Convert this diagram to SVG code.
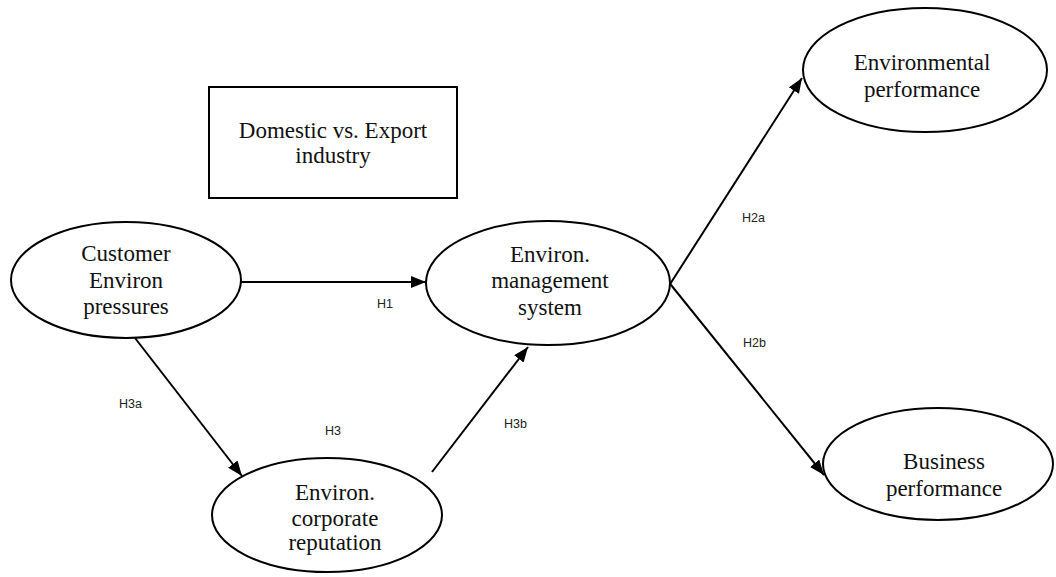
<svg xmlns="http://www.w3.org/2000/svg" width="1056" height="577" viewBox="0 0 1056 577">
<style>
.node{fill:#fff;stroke:#000;stroke-width:2}
.t{font-family:"Liberation Serif","Times New Roman",serif;font-size:23px;fill:#111;text-anchor:middle}
.lbl{font-family:"Liberation Sans",Arial,sans-serif;font-size:12.5px;fill:#222}
.edge{stroke:#000;stroke-width:2;fill:none;marker-end:url(#ah)}
</style>
<defs>
<marker id="ah" markerUnits="userSpaceOnUse" markerWidth="16" markerHeight="12" refX="15" refY="6" orient="auto">
<path d="M0,0 L15,6 L0,12 Z" fill="#000"/>
</marker>
</defs>
<rect width="1056" height="577" fill="#fff"/>
<g id="connectors">
<line class="edge" x1="241" y1="282" x2="426" y2="282"/>
<line class="edge" x1="135" y1="338" x2="242" y2="476"/>
<line class="edge" x1="432" y1="472" x2="528" y2="347"/>
<line class="edge" x1="665" y1="292" x2="802" y2="78"/>
<line class="edge" x1="663" y1="275" x2="824" y2="475"/>
</g>
<g id="labels">
<text class="lbl" x="377" y="308">H1</text>
<text class="lbl" x="742" y="222">H2a</text>
<text class="lbl" x="743" y="347">H2b</text>
<text class="lbl" x="119" y="408">H3a</text>
<text class="lbl" x="325" y="435">H3</text>
<text class="lbl" x="504" y="428">H3b</text>
</g>
<g id="industry">
<rect class="node" x="209" y="87" width="248" height="111"/>
<text class="t" x="333" y="138">Domestic vs. Export</text>
<text class="t" x="333" y="163">industry</text>
</g>
<g id="customer">
<ellipse class="node" cx="126" cy="280" rx="115" ry="58"/>
<text class="t" x="126" y="261">Customer</text>
<text class="t" x="126" y="288">Environ</text>
<text class="t" x="126" y="314">pressures</text>
</g>
<g id="ems">
<ellipse class="node" cx="548" cy="283" rx="122" ry="62"/>
<text class="t" x="550" y="262">Environ.</text>
<text class="t" x="550" y="288">management</text>
<text class="t" x="550" y="315">system</text>
</g>
<g id="reputation">
<ellipse class="node" cx="327" cy="515" rx="115" ry="57"/>
<text class="t" x="335" y="500">Environ.</text>
<text class="t" x="335" y="526">corporate</text>
<text class="t" x="335" y="550">reputation</text>
</g>
<g id="envperf">
<ellipse class="node" cx="925" cy="70" rx="122" ry="62"/>
<text class="t" x="922" y="70">Environmental</text>
<text class="t" x="922" y="97">performance</text>
</g>
<g id="busperf">
<ellipse class="node" cx="938" cy="464" rx="115" ry="56"/>
<text class="t" x="944" y="469">Business</text>
<text class="t" x="944" y="496">performance</text>
</g>
</svg>
